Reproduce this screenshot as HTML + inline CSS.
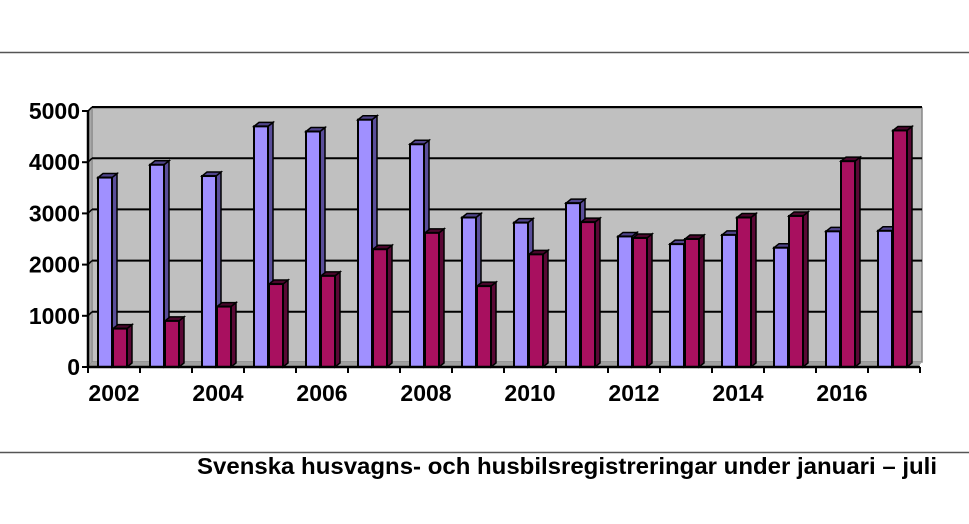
<!DOCTYPE html>
<html><head><meta charset="utf-8"><style>
html,body{margin:0;padding:0;background:#fff;}
svg{display:block;}
text{font-family:"Liberation Sans",Arial,sans-serif;font-weight:bold;}
</style></head><body>
<svg id="c" width="969" height="524" xmlns="http://www.w3.org/2000/svg">
<line x1="0" y1="52.5" x2="969" y2="52.5" stroke="#555" stroke-width="1.5"/>
<line x1="0" y1="452.5" x2="969" y2="452.5" stroke="#555" stroke-width="1.5"/>
<polygon points="92,108 922,108 922,362 92,362" fill="#c0c0c0" stroke="#888" stroke-width="1.5"/>
<polygon points="88,112 92,108 92,362 88,367" fill="#a8a8a8" stroke="#888"/>
<polygon points="88,367 92,362 922,362 918,367" fill="#a0a0a0"/>
<g id="grid"></g>
<g id="bars"></g>
<line x1="88" y1="110" x2="88" y2="368" stroke="#000" stroke-width="2.5"/>
<line x1="87" y1="367" x2="920" y2="367" stroke="#000" stroke-width="2.5"/>
<g id="ticks"></g>
<text x="937" y="474" font-size="23" text-anchor="end" textLength="740" lengthAdjust="spacingAndGlyphs">Svenska husvagns- och husbilsregistreringar under januari – juli</text>
</svg>
<script>
var NS="http://www.w3.org/2000/svg";
function el(p,t,a,txt){var e=document.createElementNS(NS,t);for(var k in a)e.setAttribute(k,a[k]);if(txt!==undefined)e.textContent=txt;document.getElementById(p).appendChild(e);}
var z=367,s=0.0512;
for(var v=1000;v<=5000;v+=1000){var y=z-v*s;
 el("grid","line",{x1:92,y1:y-4,x2:922,y2:y-4,stroke:"#000","stroke-width":2});
 el("grid","line",{x1:88,y1:y,x2:92,y2:y-4,stroke:"#000","stroke-width":1.5});}
for(var v=0;v<=5000;v+=1000){var y=z-v*s;
 el("ticks","line",{x1:82,y1:y,x2:88,y2:y,stroke:"#000","stroke-width":2});
 el("ticks","text",{x:80,y:y+8,"font-size":23,"text-anchor":"end"},String(v));}
for(var i=0;i<=16;i++){var x=88+i*52;el("ticks","line",{x1:x,y1:367,x2:x,y2:373,stroke:"#000","stroke-width":2});}
for(var i=0;i<8;i++){el("ticks","text",{x:114+i*104,y:401,"font-size":23,"text-anchor":"middle"},String(2002+2*i));}
var B=[3700,3950,3730,4700,4600,4830,4350,2920,2820,3200,2550,2400,2580,2330,2650,2660];
var R=[750,900,1180,1620,1780,2300,2620,1580,2200,2830,2520,2500,2920,2950,4020,4620];
function bar(x,v,f,sd,tp){var w=14,d=5,h=4,y=z-v*s;
 el("bars","polygon",{points:[x+w,y,x+w+d,y-h,x+w+d,z-h,x+w,z].join(" "),fill:sd,stroke:"#000","stroke-width":1.5});
 el("bars","polygon",{points:[x,y,x+d,y-h,x+w+d,y-h,x+w,y].join(" "),fill:tp,stroke:"#000","stroke-width":1.5});
 el("bars","rect",{x:x,y:y,width:w,height:z-y,fill:f,stroke:"#000","stroke-width":2});}
for(var i=0;i<16;i++){var x0=88+i*52;
 bar(x0+10,B[i],"#a090ff","#5a4e9a","#50448c");
 bar(x0+25,R[i],"#a8105f","#5a0835","#4a062c");}
</script>
</body></html>
